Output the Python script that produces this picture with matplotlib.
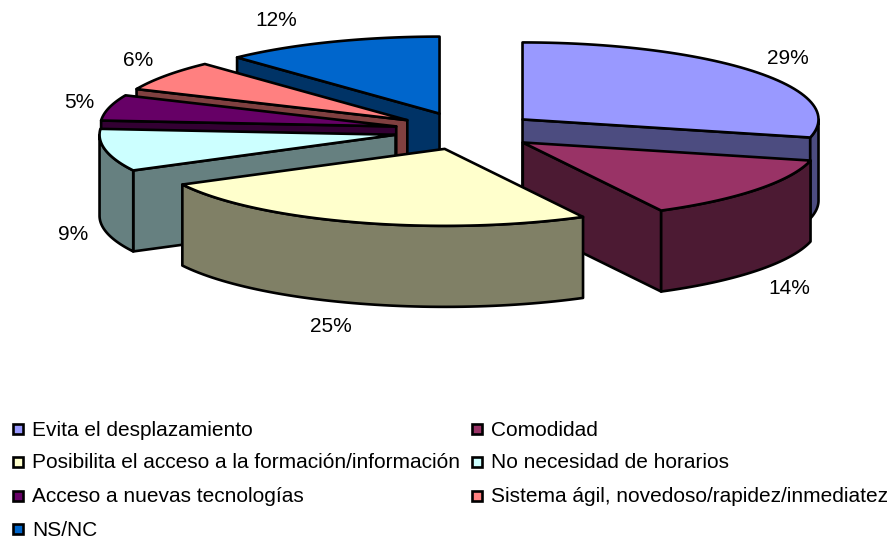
import numpy as np
import matplotlib
matplotlib.use('Agg')
import matplotlib.pyplot as plt
from matplotlib.patches import Polygon, Rectangle

categories = ['Evita el desplazamiento', 'Comodidad',
              'Posibilita el acceso a la formación/información', 'No necesidad de horarios',
              'Acceso a nuevas tecnologías', 'Sistema ágil, novedoso/rapidez/inmediatez',
              'NS/NC']
values = [28.8, 13.5, 25.1, 8.9, 5.4, 6.4, 12.0]
top_colors = ['#9999FF', '#993366', '#FFFFCC', '#CCFFFF', '#660066', '#FF8080', '#0066CC']
side_colors = ['#4C4C80', '#4C1A33', '#808066', '#668080', '#330033', '#804040', '#003366']

# label centres in pixels
label_pos = [(788, 58), (789, 288), (331, 326), (73, 235), (79, 103), (138, 61), (276, 21)]

CX, CY = 466, 131
RX, RY = 296, 77
DEPTH = 81
EXPLODE = 0.243
LW = 1.9
FONT = 15
DRAW_ORDER = [6, 5, 4, 3, 0, 1, 2]


def arc(apex, a0, a1):
    ang = np.radians(np.linspace(a0, a1, 60))
    return np.column_stack([apex[0] + RX * np.sin(ang), apex[1] - RY * np.cos(ang)])


def down(points):
    return points + np.array([0, DEPTH])


def face(ax, points, color):
    ax.add_patch(Polygon(points, closed=True, facecolor=color, edgecolor='black',
                         linewidth=LW, joinstyle='round'))


def draw_slice(ax, a0, a1, top, side):
    mid = np.radians((a0 + a1) / 2)
    apex = np.array([CX + EXPLODE * RX * np.sin(mid), CY - EXPLODE * RY * np.cos(mid)])
    rim = arc(apex, a0, a1)

    # cut faces, only the ones turned to the viewer
    if np.sin(np.radians(a0)) < -1e-6:
        quad = np.array([apex, rim[0]])
        face(ax, np.vstack([quad, down(quad)[::-1]]), side)
    if np.sin(np.radians(a1)) > 1e-6:
        quad = np.array([apex, rim[-1]])
        face(ax, np.vstack([quad, down(quad)[::-1]]), side)

    # outer wall on the front half
    w0, w1 = max(a0, 90), min(a1, 270)
    if w1 > w0:
        wall = arc(apex, w0, w1)
        face(ax, np.vstack([wall, down(wall)[::-1]]), side)

    face(ax, np.vstack([apex, rim]), top)


def main():
    plt.rcParams['font.family'] = ['Liberation Sans', 'DejaVu Sans']
    fig = plt.figure(figsize=(8.94, 5.4), dpi=100)
    ax = fig.add_axes([0, 0, 1, 1])
    ax.set_xlim(0, 894)
    ax.set_ylim(540, 0)
    ax.axis('off')

    edges = np.cumsum([0] + values) / sum(values) * 360
    for i in DRAW_ORDER:
        draw_slice(ax, edges[i], edges[i + 1], top_colors[i], side_colors[i])

    for value, (x, y) in zip(values, label_pos):
        ax.text(x, y, f'{round(value)}%', ha='center', va='center', fontsize=FONT, color='black')

    # legend, two columns filled row by row
    rows = [429, 462, 496, 529]
    cols = [(13, 32), (472, 491)]
    for i, name in enumerate(categories):
        box_x, text_x = cols[i % 2]
        y = rows[i // 2]
        ax.add_patch(Rectangle((box_x, y - 5), 10, 10, facecolor=top_colors[i],
                               edgecolor='black', linewidth=LW))
        ax.text(text_x, y + 1, name, ha='left', va='center', fontsize=FONT, color='black')

    fig.savefig('out.png', dpi=100)


if __name__ == "__main__":
    main()
